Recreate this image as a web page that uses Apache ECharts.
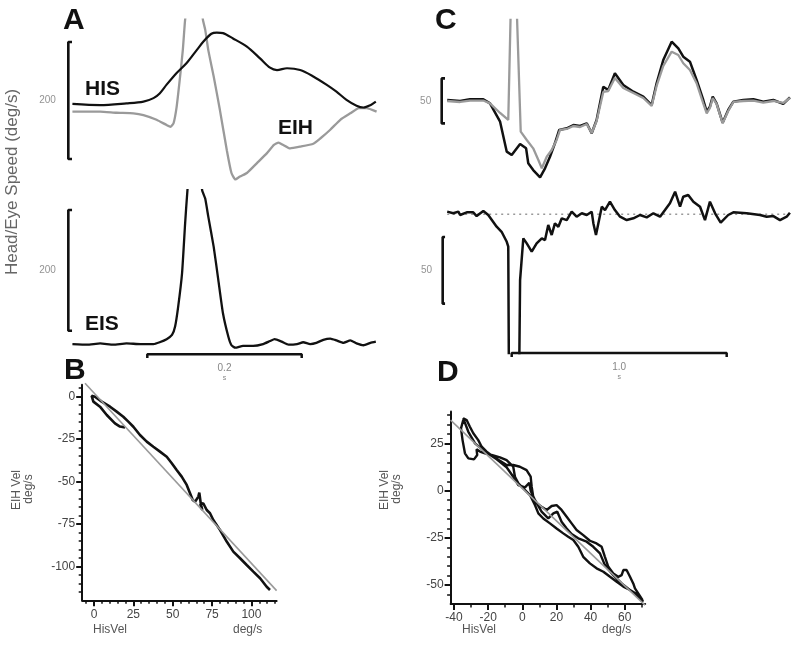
<!DOCTYPE html>
<html><head><meta charset="utf-8">
<script src="https://cdn.jsdelivr.net/npm/echarts@6/dist/echarts.min.js"></script>
<style>html,body{margin:0;padding:0;background:#fff}#c{width:800px;height:645px}</style>
</head><body><div id="c"></div>
<script>
// ---------- DATA ----------
// Panel A (top): head-in-space (HIS) and eye-in-head (EIH) speed, time in ms, speed in deg/s
const hisT = [3,39,73,95,108,116,125,138,151,164,173,183,190,198,211,229,246,259,268,281,298,315,332,345,358,371,380,389,396];
const hisV = [0,-2,1,4,10,18,33,53,70,92,107,120,122,121,112,98,78,62,58,61,58,47,33,21,7,-3,-6,-2,4];
const eihT = [3,39,60,82,95,112,125,130,134,138,142,146,149,161,172,175,179,186,194,203,209,214,220,229,242,255,264,270,276,285,298,315,324,337,350,363,374,384,397];
const eihV = [-13,-13,-15,-16,-19,-27,-36,-39,-33,-5,41,92,144,280,144,127,92,47,-10,-79,-118,-129,-124,-118,-101,-84,-70,-66,-70,-76,-73,-68,-59,-44,-27,-16,-7,-7,-13];
// Panel A (bottom): eye-in-space (EIS)
const eisT = [3,22,39,56,73,91,108,116,125,132,136,140,145,149,152,162,171,175,179,186,192,198,205,209,214,224,237,250,259,265,274,283,294,302,311,319,328,337,345,354,363,371,380,389,396];
const eisV = [0,-1,1,-1,1,0,0,3,8,15,29,62,117,200,255,388,255,241,211,161,106,51,12,-2,-6,-3,-3,0,5,8,4,-1,0,3,0,2,7,9,6,2,6,1,-2,2,4];
// Panel C (top): head (black) and eye-in-head (gray), time in s
const cHeadT = [0,0.060,0.106,0.168,0.199,0.246,0.277,0.300,0.339,0.367,0.377,0.400,0.432,0.455,0.478,0.501,0.521,0.556,0.587,0.618,0.649,0.672,0.695,0.726,0.749,0.780,0.819,0.866,0.912,0.951,0.974,1.005,1.044,1.075,1.098,1.129,1.160,1.191,1.207,1.222,1.235,1.253,1.281,1.307,1.331,1.377,1.424,1.470,1.517,1.563,1.594];
const cHeadV = [0,-1.1,0.8,0.8,-3.7,-24.1,-57.4,-61.1,-48.9,-53.7,-70.3,-77.8,-85.9,-75.9,-63.0,-48.1,-33.3,-31.4,-27.8,-28.9,-25.9,-37.0,-22.2,14.8,11.1,29.7,16.7,9.2,3.7,-5.6,18.6,44.4,64.8,57.4,48.1,42.6,22.2,0,-13.0,-7.4,3.7,-3.7,-25.2,-11.1,-1.9,0,0.8,-1.9,0,-4.4,3.0];
const cEyeT = [0,0.060,0.106,0.168,0.199,0.246,0.284,0.307,0.342,0.370,0.400,0.424,0.440,0.463,0.486,0.509,0.525,0.556,0.587,0.618,0.649,0.672,0.695,0.726,0.749,0.780,0.819,0.866,0.912,0.951,0.974,1.005,1.044,1.075,1.098,1.129,1.160,1.191,1.207,1.222,1.235,1.253,1.281,1.307,1.331,1.377,1.424,1.470,1.517,1.563,1.594];
const cEyeV = [-1.1,-2.2,-0.6,-0.6,-3.7,-14.4,-22.2,222,-35.2,-44.4,-53.7,-66.7,-75.9,-63.0,-55.6,-44.4,-33.3,-32.2,-28.9,-30.0,-26.7,-36.7,-23.3,8.9,10.0,24.4,13.3,7.8,2.2,-6.7,15.6,37.8,53.7,50.0,40.8,33.3,18.6,-3.7,-14.8,-8.9,2.2,-4.4,-25.9,-12.2,-2.2,-1.1,-0.6,-2.8,-1.1,-3.3,2.2];
// Panel C (bottom): eye-in-space
const cEisT = [0,0.028,0.052,0.060,0.091,0.121,0.137,0.168,0.191,0.230,0.253,0.277,0.284,0.290,0.329,0.339,0.354,0.370,0.393,0.416,0.440,0.455,0.470,0.486,0.501,0.517,0.533,0.556,0.579,0.602,0.626,0.649,0.672,0.680,0.692,0.703,0.719,0.734,0.757,0.780,0.804,0.835,0.866,0.897,0.928,0.959,0.990,1.013,1.036,1.060,1.083,1.098,1.121,1.145,1.176,1.199,1.222,1.246,1.272,1.307,1.331,1.393,1.455,1.486,1.517,1.548,1.579,1.594];
const cEisV = [2,0.8,2,-0.5,1.5,1.5,-1.3,2.5,-0.5,-9.3,-13.1,-20.6,-24.3,-214,-214,-49.3,-18,-21.8,-28,-21.8,-18,-19.3,-8,-15.5,-6.8,-9.3,-3,-4.3,2,-1.8,0.8,-0.5,2,-6.8,-15.5,-6.8,5.7,3.2,9.5,3.2,-1.8,-4.3,-3,-0.5,-2.3,0.8,-1.8,3.2,8.3,17,5.7,13.2,14.5,9.5,5.7,-4.3,9.5,0.8,-6.3,-0.5,1.5,0.8,-0.5,-1.8,-1.3,-4.3,-1.8,1.2];
// Panel B: EIH velocity vs HIS velocity
const bHis = [19.7,16.5,13.3,8.1,3.8,-0.4,-1.5,0.6,4.9,10.2,14.4,18.6,21.8,25,29.2,33.5,37.7,41.9,46.2,49.4,52.5,55.7,58.9,61,62.7,64.2,66.3,66.9,67.8,68.8,67.5,69.4,71.6,73.7,75.8,80,84.3,88.5,92.8,97,101.2,105.5,109.7,111.8];
const bEih = [-18.1,-17.6,-15.7,-10.8,-5.9,-2.9,0.5,0,-2.9,-5.9,-8.8,-11.8,-14.7,-17.7,-22.6,-26.5,-29.5,-32.4,-35.4,-39.2,-43.2,-47.1,-52,-56.9,-60.9,-61.9,-58.9,-56.5,-62.8,-66.8,-63.5,-62.8,-66.8,-68.7,-72.7,-78.5,-85.4,-91.3,-95.2,-99.2,-103.1,-107,-112,-113.9];
const bFitX = [-5.7, 116];
const bFitY = [7.9, -114.3];
// Panel D
const dHis = [-34.6,-35.9,-35.0,-33.6,-31.6,-28.3,-26.4,-26.8,-24.8,-21.9,-18.0,-13.1,-9.2,-5.3,-4.3,-2.3,0.6,4.5,7.4,9.4,12.3,16.2,20.1,24.0,26.9,29.9,32.8,35.7,39.6,43.5,47.5,51.4,55.3,59.2,63.1,67.0,70.5,66.0,65.0,63.1,61.1,59.2,58.2,56.2,53.3,50.4,48.4,46.5,43.5,39.6,35.7,31.8,28.9,26.0,23.0,20.1,17.2,14.3,11.3,8.4,6.4,5.5,4.9,2.5,-1.4,-5.3,-9.2,-13.1,-17.0,-20.9,-23.8,-25.8,-28.7,-30.7,-32.6,-34.6,-31.6,-27.7,-21.9,-15.0,-9.2,-5.3,-2.3,1.6,4.1,4.9,7.4,11.3,15.2,18.2,20.5,23.0,26.0,28.9,32.8,37.7,41.6,45.5,48.4,53.3,58.2,65.0,70.9];
const dEih = [37.4,33.0,26.8,19.8,17.1,16.6,18.9,21.9,20.7,19.8,18.9,17.7,16.2,12.7,7.4,3.9,1.2,-2.3,-7.6,-12.0,-14.7,-17.3,-20.0,-22.6,-24.4,-26.1,-29.7,-35.0,-38.5,-41.1,-42.9,-45.6,-48.2,-50.8,-52.6,-54.7,-57.9,-51.7,-49.1,-45.6,-42.0,-42.0,-44.7,-45.6,-43.8,-40.3,-35.0,-29.7,-27.9,-26.5,-23.5,-20.8,-17.3,-13.8,-10.2,-7.6,-8.1,-10.2,-8.5,-6.7,-3.2,2.1,7.4,10.9,12.7,13.6,13.6,15.9,18.0,20.7,23.3,26.8,30.4,33.9,37.4,38.3,31.2,25.1,20.7,16.6,12.4,7.4,3.0,1.8,4.2,0,-4.9,-11.1,-14.7,-12.0,-11.1,-16.4,-20.0,-23.0,-25.2,-27.0,-29.7,-33.2,-39.4,-44.7,-49.1,-54.0,-58.8];
const dFitX = [-42, 71.9];
const dFitY = [37.4, -60.6];
// Tick values
const bXMajor = [0,25,50,75,100];
const bXMinor = [-5,5,10,15,20,30,35,40,45,55,60,65,70,80,85,90,95,105,110,115];
const bYMajor = [-100,-75,-50,-25,0];
const bYMinor = [-115,-110,-105,-95,-90,-85,-80,-70,-65,-60,-55,-45,-40,-35,-30,-20,-15,-10,-5,5];
const dXMajor = [-40,-20,0,20,40,60];
const dXMinor = [-30,-10,10,30,50,70];
const dYMajor = [-50,-25,0,25];
const dYMinor = [-55,-45,-40,-35,-30,-20,-15,-10,-5,5,10,15,20,30,35,40];
// Scale bars (values)
const barA = [-94, 106];      // 200 deg/s
const barEIS = [22, 222];     // 200 deg/s
const barCTop = [-26, 24];    // 50 deg/s
const barCBot = [-67, -17];   // 50 deg/s
const timeBarA = [100, 300];  // 0.2 s
const timeBarC = [0.3, 1.3];  // 1.0 s
const barLabels = ['200', '200', '50', '50'];
const timeLabels = ['0.2', '1.0'];

// ---------- CHART ----------
const F = '"Liberation Sans", Arial, Helvetica, sans-serif';
const BLACK = '#111', GRAY = '#9a9a9a';
const pairs = (xs, ys) => xs.map((x, i) => [x, ys[i]]);

function trace(ai, xs, ys, color, width, smooth, z) {
  return { type: 'line', xAxisIndex: ai, yAxisIndex: ai, data: pairs(xs, ys), symbol: 'none',
    smooth: smooth || false, lineStyle: { color: color, width: width }, z: z || 2, silent: true, clip: true };
}
function bracket(ai, xBar, xTick, span) {
  return { type: 'line', xAxisIndex: ai, yAxisIndex: ai, clip: false, symbol: 'none', silent: true,
    data: [[xTick, span[1]], [xBar, span[1]], [xBar, span[0]], [xTick, span[0]]],
    lineStyle: { color: BLACK, width: 2.6 }, z: 3 };
}
function barLabel(ai, xBar, span, text, dist) {
  return { type: 'scatter', xAxisIndex: ai, yAxisIndex: ai, clip: false, silent: true, symbolSize: 1,
    itemStyle: { color: 'rgba(0,0,0,0)' }, data: [[xBar, (span[0] + span[1]) / 2]],
    label: { show: true, position: 'left', distance: dist, formatter: text, fontSize: 10, color: '#777', fontFamily: F } };
}
function timeBar(ai, span, base, tick) {
  return { type: 'line', xAxisIndex: ai, yAxisIndex: ai, clip: false, symbol: 'none', silent: true,
    data: [[span[0], base - tick], [span[0], base], [span[1], base], [span[1], base - tick]],
    lineStyle: { color: BLACK, width: 2.5 }, z: 3 };
}
function timeLabel(ai, span, base, text) {
  return { type: 'scatter', xAxisIndex: ai, yAxisIndex: ai, clip: false, silent: true, symbolSize: 1,
    itemStyle: { color: 'rgba(0,0,0,0)' }, data: [[(span[0] + span[1]) / 2, base]],
    label: { show: true, position: 'bottom', distance: 5, formatter: '{a|' + text + '}\n{b|s}',
      rich: { a: { fontSize: 10, color: '#666', fontFamily: F, lineHeight: 10, align: 'center' },
              b: { fontSize: 7, color: '#666', fontFamily: F, lineHeight: 9, align: 'center' } } } };
}
function hiddenAxis(gi, min, max) { return { type: 'value', gridIndex: gi, min: min, max: max, show: false }; }
function majorAxis(gi, pos, min, max, ticks, margin) {
  return { type: 'value', gridIndex: gi, position: pos, min: min, max: max,
    axisLine: { show: true, onZero: false, lineStyle: { color: BLACK, width: 2 } },
    axisTick: { show: true, customValues: ticks, length: 6, lineStyle: { color: BLACK, width: 2 } },
    axisLabel: { show: true, customValues: ticks, fontSize: 12, color: '#444', fontFamily: F, margin: margin },
    splitLine: { show: false } };
}
function minorAxis(gi, pos, min, max, ticks) {
  return { type: 'value', gridIndex: gi, position: pos, min: min, max: max,
    axisLine: { show: false, onZero: false },
    axisTick: { show: true, customValues: ticks, length: 3.5, lineStyle: { color: BLACK, width: 1.5 } },
    axisLabel: { show: false }, splitLine: { show: false } };
}

const option = {
  animation: false,
  backgroundColor: '#fff',
  grid: [
    { left: 66.24, top: 19.7, width: 312.67, height: 166.2 },  // A top   (x: -5..400 ms)
    { left: 66.24, top: 190.1, width: 312.67, height: 164.2 }, // A bottom
    { left: 438.6, top: 19.9, width: 352.6, height: 164.7 },   // C top   (x: -0.04..1.6 s)
    { left: 438.6, top: 185, width: 352.6, height: 168 },      // C bottom
    { left: 82.2, top: 384.8, width: 194.4, height: 215.5 },   // B
    { left: 450.6, top: 411.4, width: 194.6, height: 192.6 }   // D
  ],
  xAxis: [
    hiddenAxis(0, -5, 400), hiddenAxis(1, -5, 400), hiddenAxis(2, -0.04, 1.6), hiddenAxis(3, -0.04, 1.6),
    majorAxis(4, 'bottom', -7.5, 116, bXMajor, 8), minorAxis(4, 'bottom', -7.5, 116, bXMinor),
    majorAxis(5, 'bottom', -42, 72, dXMajor, 8), minorAxis(5, 'bottom', -42, 72, dXMinor)
  ],
  yAxis: [
    hiddenAxis(0, -140, 144), hiddenAxis(1, -17, 255), hiddenAxis(2, -94, 89), hiddenAxis(3, -104, 22),
    majorAxis(4, 'left', -120, 7, bYMajor, 7), minorAxis(4, 'left', -120, 7, bYMinor),
    majorAxis(5, 'left', -60, 42, dYMajor, 7), minorAxis(5, 'left', -60, 42, dYMinor)
  ],
  series: [
    // A top
    trace(0, eihT, eihV, GRAY, 2.3, 0.15, 2),
    trace(0, hisT, hisV, BLACK, 2.2, 0.3, 3),
    bracket(0, -2.3, 2.5, barA),
    barLabel(0, -2.3, barA, barLabels[0], 12),
    // A bottom
    trace(1, eisT, eisV, BLACK, 2.3, 0.15, 2),
    bracket(1, -2.3, 2.5, barEIS),
    barLabel(1, -2.3, barEIS, barLabels[1], 12),
    timeBar(1, timeBarA, -17, 6),
    timeLabel(1, timeBarA, -23, timeLabels[0]),
    // C top
    trace(2, cHeadT, cHeadV, BLACK, 2.5, false, 2),
    trace(2, cEyeT, cEyeV, GRAY, 2.3, false, 3),
    bracket(2, -0.0256, -0.0102, barCTop),
    barLabel(2, -0.0256, barCTop, barLabels[2], 10),
    // C bottom
    { type: 'line', xAxisIndex: 3, yAxisIndex: 3, symbol: 'none', silent: true, z: 1,
      data: [[cEisT[0], 0], [cEisT[cEisT.length - 1], 0]],
      lineStyle: { color: '#999', width: 1.5, type: [2, 4] } },
    trace(3, cEisT, cEisV, BLACK, 2.5, false, 2),
    bracket(3, -0.021, -0.010, barCBot),
    barLabel(3, -0.021, barCBot, barLabels[3], 10),
    timeBar(3, timeBarC, -104, 3),
    timeLabel(3, timeBarC, -107, timeLabels[1]),
    // B
    trace(4, bHis, bEih, BLACK, 2.6, false, 2),
    Object.assign(trace(4, bFitX, bFitY, GRAY, 1.6, false, 3), { clip: false }),
    // D
    trace(6, dHis, dEih, BLACK, 2.4, false, 2),
    Object.assign(trace(6, dFitX, dFitY, GRAY, 1.6, false, 3), { clip: false })
  ],
  graphic: [
    { type: 'text', x: 63, y: 21, style: { text: 'A', font: 'bold 30px ' + F, fill: BLACK, textVerticalAlign: 'middle' } },
    { type: 'text', x: 435, y: 21, style: { text: 'C', font: 'bold 30px ' + F, fill: BLACK, textVerticalAlign: 'middle' } },
    { type: 'text', x: 64, y: 371, style: { text: 'B', font: 'bold 30px ' + F, fill: BLACK, textVerticalAlign: 'middle' } },
    { type: 'text', x: 437, y: 373, style: { text: 'D', font: 'bold 30px ' + F, fill: BLACK, textVerticalAlign: 'middle' } },
    { type: 'text', x: 85, y: 89.5, style: { text: 'HIS', font: 'bold 21px ' + F, fill: BLACK, textVerticalAlign: 'middle' } },
    { type: 'text', x: 278, y: 128.5, style: { text: 'EIH', font: 'bold 21px ' + F, fill: BLACK, textVerticalAlign: 'middle' } },
    { type: 'text', x: 85, y: 324.5, style: { text: 'EIS', font: 'bold 21px ' + F, fill: BLACK, textVerticalAlign: 'middle' } },
    { type: 'text', x: 12, y: 182, rotation: Math.PI / 2,
      style: { text: 'Head/Eye Speed (deg/s)', font: '17px ' + F, fill: '#666', textAlign: 'center', textVerticalAlign: 'middle' } },
    // B axis names
    { type: 'text', x: 17, y: 490, rotation: Math.PI / 2, style: { text: 'EIH Vel', font: '12px ' + F, fill: '#555', textAlign: 'center', textVerticalAlign: 'middle' } },
    { type: 'text', x: 29, y: 489, rotation: Math.PI / 2, style: { text: 'deg/s', font: '12px ' + F, fill: '#555', textAlign: 'center', textVerticalAlign: 'middle' } },
    { type: 'text', x: 93, y: 630, style: { text: 'HisVel', font: '12px ' + F, fill: '#555', textVerticalAlign: 'middle' } },
    { type: 'text', x: 233, y: 630, style: { text: 'deg/s', font: '12px ' + F, fill: '#555', textVerticalAlign: 'middle' } },
    // D axis names
    { type: 'text', x: 385, y: 490, rotation: Math.PI / 2, style: { text: 'EIH Vel', font: '12px ' + F, fill: '#555', textAlign: 'center', textVerticalAlign: 'middle' } },
    { type: 'text', x: 397, y: 489, rotation: Math.PI / 2, style: { text: 'deg/s', font: '12px ' + F, fill: '#555', textAlign: 'center', textVerticalAlign: 'middle' } },
    { type: 'text', x: 462, y: 630, style: { text: 'HisVel', font: '12px ' + F, fill: '#555', textVerticalAlign: 'middle' } },
    { type: 'text', x: 602, y: 630, style: { text: 'deg/s', font: '12px ' + F, fill: '#555', textVerticalAlign: 'middle' } }
  ]
};
const chart = echarts.init(document.getElementById('c'), null, { renderer: 'canvas' });
chart.setOption(option);
</script></body></html>
